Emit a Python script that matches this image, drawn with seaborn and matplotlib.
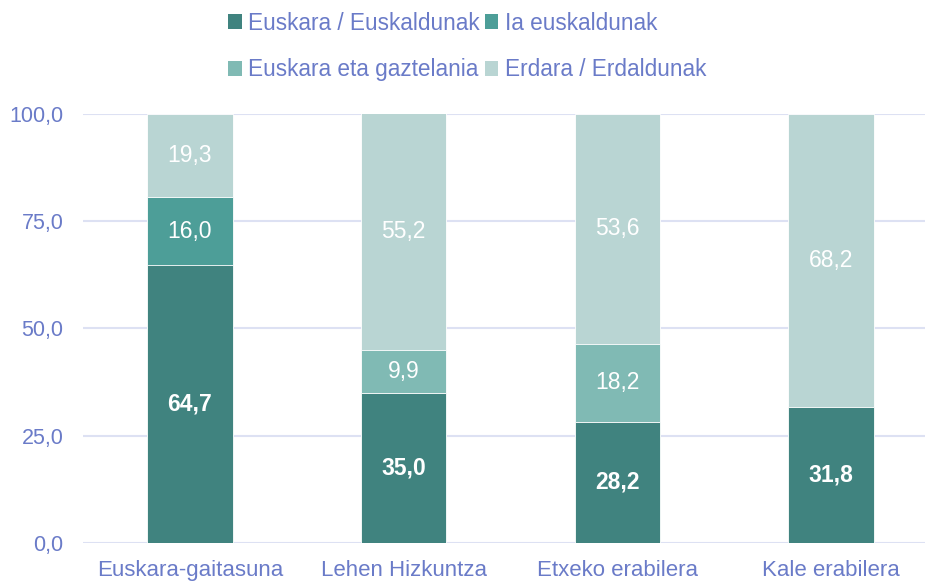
import numpy as np
import pandas as pd
import matplotlib
matplotlib.use('Agg')
import matplotlib.pyplot as plt
import seaborn as sns
from matplotlib.patches import Patch

categories = ['Euskara-gaitasuna', 'Lehen Hizkuntza', 'Etxeko erabilera', 'Kale erabilera']
series_names = ['Euskara / Euskaldunak', 'Ia euskaldunak',
                'Euskara eta gaztelania', 'Erdara / Erdaldunak']
euskara = [64.7, 35.0, 28.2, 31.8]
ia_euskaldunak = [16.0, 0.0, 0.0, 0.0]
euskara_gaztelania = [0.0, 9.9, 18.2, 0.0]
erdara = [19.3, 55.2, 53.6, 68.2]
y_ticks = [0, 25, 50, 75, 100]

colors = ['#40837f', '#4d9e98', '#80bab4', '#b9d5d3']
text_color = '#6a7bc8'
grid_color = '#dde1f3'

sns.set_style('white')
plt.rcParams['font.family'] = ['Liberation Sans', 'DejaVu Sans']

series = [euskara, ia_euskaldunak, euskara_gaztelania, erdara]
df = pd.DataFrame({'cat': categories})
for name, vals in zip(series_names, series):
    df[name] = vals
cum = df[series_names].cumsum(axis=1)

fig = plt.figure(figsize=(9.25, 5.81), dpi=100)
ax = fig.add_axes([0.0897, 0.0654, 0.9103, 0.7386])

# draw cumulative totals from the top layer down so they stack
for name, color in reversed(list(zip(series_names, colors))):
    sns.barplot(data=cum.assign(cat=categories), x='cat', y=name, color=color,
                width=0.4, saturation=1, ax=ax, edgecolor='white', linewidth=0.6)

for i, cat in enumerate(categories):
    base = 0.0
    for j, name in enumerate(series_names):
        v = df.loc[i, name]
        if v > 0:
            ax.text(i, base + v / 2, f'{v:.1f}'.replace('.', ','), ha='center', va='center',
                    color='white', fontsize=16.5,
                    fontweight='bold' if j == 0 else 'normal')
        base += v

ax.set_ylim(0, 100)
ax.set_xlim(-0.5, 3.44)
ax.set_yticks(y_ticks)
ax.set_yticklabels([f'{t:.1f}'.replace('.', ',') for t in y_ticks])
ax.set_xlabel('')
ax.set_ylabel('')
ax.yaxis.grid(True, color=grid_color, linewidth=1.5)
ax.set_axisbelow(True)
for s in ax.spines.values():
    s.set_visible(False)
ax.tick_params(axis='both', colors=text_color, length=0)
ax.tick_params(axis='y', pad=14, labelsize=15.5)
ax.tick_params(axis='x', pad=12, labelsize=16)

# row-major legend order: handles reordered for column-major fill
order = [0, 2, 1, 3]
handles = [Patch(facecolor=colors[k], edgecolor='none') for k in order]
labels = [series_names[k] for k in order]
fig.legend(handles, labels, loc='upper center', bbox_to_anchor=(0.505, 1.015),
           ncol=2, frameon=False, fontsize=16.3, labelcolor=text_color,
           handlelength=0.6, handleheight=0.6, handletextpad=0.3,
           columnspacing=0.2, labelspacing=1.05)

fig.savefig('out.png', dpi=100)
